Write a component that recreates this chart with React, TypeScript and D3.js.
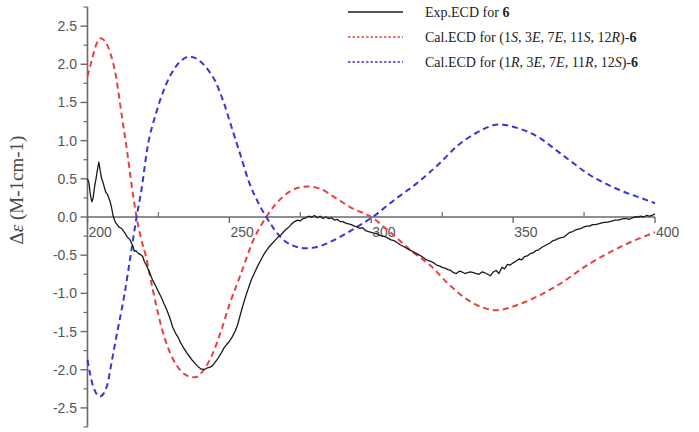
import React from "react";
import * as d3 from "d3";

const expWl = [200,200.5,201,201.5,202,202.5,203,203.5,204,204.5,205,205.5,206,206.5,207,207.5,208,208.5,209,209.5,210,210.5,211,212,213,214,215,216,216.5,217,218,219,219.5,220,221,222,223,224,225,226,227,228,229,230,231,232,233,234,235,236,237,238,239,240,241,242,243,244,245,246,247,248,249,250,251,252,253,254,255,256,257,258,259,260,261,262,263,264,265,266,267,268,269,270,271,272,273,274,275,276,277,278,279,280,281,282,283,284,285,286,287,288,289,290,291,292,293,294,295,296,297,298,299,300,301,302,303,304,305,306,307,308,309,310,311,312,313,314,315,316,317,318,319,320,321,322,323,324,325,326,327,328,329,330,331,332,333,334,335,336,337,338,339,340,341,342,343,344,345,346,347,348,349,350,351,352,353,354,355,356,357,358,359,360,361,362,363,364,365,366,367,368,369,370,371,372,373,374,375,376,377,378,379,380,381,382,383,384,385,386,387,388,389,390,391,392,393,394,395,396,397,398,399,400];
const expVal = [0.5,0.45,0.3,0.2,0.25,0.4,0.5,0.62,0.72,0.6,0.5,0.45,0.38,0.32,0.3,0.25,0.2,0.12,0.02,-0.04,-0.08,-0.1,-0.13,-0.15,-0.2,-0.26,-0.3,-0.38,-0.45,-0.44,-0.48,-0.5,-0.52,-0.58,-0.65,-0.74,-0.83,-0.9,-0.98,-1.05,-1.14,-1.22,-1.32,-1.44,-1.52,-1.58,-1.66,-1.72,-1.78,-1.83,-1.88,-1.92,-1.96,-1.99,-2.0,-1.98,-1.97,-1.95,-1.9,-1.85,-1.79,-1.72,-1.67,-1.63,-1.57,-1.5,-1.4,-1.26,-1.13,-1.01,-0.9,-0.8,-0.72,-0.64,-0.57,-0.5,-0.44,-0.39,-0.35,-0.31,-0.27,-0.24,-0.2,-0.16,-0.13,-0.09,-0.06,-0.04,-0.05,-0.02,-0.01,0.01,0.0,0.02,-0.01,0.01,-0.02,0.0,-0.02,-0.01,-0.04,-0.03,-0.06,-0.06,-0.08,-0.09,-0.1,-0.12,-0.13,-0.15,-0.14,-0.18,-0.19,-0.2,-0.21,-0.22,-0.24,-0.25,-0.26,-0.28,-0.3,-0.31,-0.33,-0.36,-0.38,-0.4,-0.42,-0.44,-0.46,-0.48,-0.5,-0.52,-0.55,-0.57,-0.58,-0.6,-0.63,-0.64,-0.66,-0.67,-0.69,-0.7,-0.73,-0.74,-0.71,-0.72,-0.74,-0.73,-0.72,-0.73,-0.74,-0.75,-0.72,-0.73,-0.75,-0.77,-0.72,-0.7,-0.74,-0.66,-0.68,-0.62,-0.63,-0.6,-0.58,-0.55,-0.56,-0.52,-0.51,-0.48,-0.47,-0.44,-0.43,-0.4,-0.38,-0.36,-0.34,-0.31,-0.3,-0.28,-0.27,-0.26,-0.23,-0.2,-0.19,-0.17,-0.16,-0.15,-0.13,-0.12,-0.12,-0.1,-0.1,-0.09,-0.08,-0.07,-0.07,-0.06,-0.05,-0.04,-0.04,-0.03,-0.02,-0.02,-0.03,-0.01,0.0,0.0,0.01,0.0,0.02,0.01,0.02,0.04];

const calSWl = [200,201.5,203,204.5,206,208,210,212,214,216,217.3,219,220.5,223,226.5,230,233,236,238,241,244,247,250,254,258.5,263,269,274,277.5,282,287,293,300,307,314,321,327,336,344,353,365,377,389,400];
const calSVal = [1.84,2.05,2.25,2.34,2.31,2.15,1.85,1.35,0.85,0.3,0,-0.3,-0.5,-0.95,-1.5,-1.85,-2.02,-2.09,-2.1,-2.0,-1.8,-1.5,-1.15,-0.75,-0.3,0,0.27,0.38,0.4,0.37,0.26,0.12,0,-0.21,-0.44,-0.64,-0.87,-1.13,-1.22,-1.13,-0.91,-0.61,-0.37,-0.2];

const calRWl = [200,202,204.4,206.8,208.5,210,213,215.5,217.3,219,221,224.5,229,232.5,236,240,243,245,248,251,254,257,260,263,268,272,277,282,287,295,300.5,308,316,324,330,337,345,352,360,365,370,377,383,389,395,400];
const calRVal = [-1.87,-2.22,-2.35,-2.22,-1.9,-1.6,-1.02,-0.43,0,0.35,0.88,1.4,1.84,2.03,2.1,2.03,1.9,1.78,1.5,1.15,0.8,0.45,0.2,0,-0.26,-0.37,-0.41,-0.38,-0.3,-0.13,0,0.22,0.44,0.7,0.92,1.1,1.21,1.16,1.02,0.88,0.74,0.55,0.43,0.33,0.25,0.18];

const xTicks = [200, 250, 300, 350, 400];
const xMinorTicks = [225, 275, 325, 375];
const yTicks = [-2.5, -2.0, -1.5, -1.0, -0.5, 0.0, 0.5, 1.0, 1.5, 2.0, 2.5];
const yMinorTicks = [-2.75, -2.25, -1.75, -1.25, -0.75, -0.25, 0.25, 0.75, 1.25, 1.75, 2.25, 2.75];

const RED = "#e8413f";
const BLUE = "#3636d8";
const AXIS = "#6a6a6a";
const LABEL = "#555";

export default function App() {
  const x = d3.scaleLinear().domain([200, 400]).range([87.5, 655]);
  const y = d3.scaleLinear().domain([-2.75, 2.75]).range([427, 7]);
  const lin = d3.line<[number, number]>().x(d => x(d[0])).y(d => y(d[1]));
  const smooth = d3.line<[number, number]>().x(d => x(d[0])).y(d => y(d[1])).curve(d3.curveMonotoneX);
  const exp = expWl.map((w, i) => [w, expVal[i]] as [number, number]);
  const calS = calSWl.map((w, i) => [w, calSVal[i]] as [number, number]);
  const calR = calRWl.map((w, i) => [w, calRVal[i]] as [number, number]);

  const x0 = x(200);
  const y0 = y(0);
  const serif = "'Liberation Serif', 'Times New Roman', serif";
  const sans = "'Liberation Sans', Arial, sans-serif";

  return (
    <svg width={699} height={432} style={{ position: "absolute", left: 0, top: 0, background: "#fff" }}>
      {/* y axis */}
      <line x1={x0} x2={x0} y1={y(2.75)} y2={y(-2.75)} stroke={AXIS} strokeWidth={1.6} />
      {yTicks.map(t => (
        <g key={"yt" + t}>
          <line x1={x0 - 7} x2={x0} y1={y(t)} y2={y(t)} stroke={AXIS} strokeWidth={1.4} />
          <text x={77} y={y(t)} textAnchor="end" dominantBaseline="central" fontFamily={sans} fontSize={14} fill={LABEL}>
            {t.toFixed(1)}
          </text>
        </g>
      ))}
      {yMinorTicks.map(t => (
        <line key={"ym" + t} x1={x0 - 4} x2={x0} y1={y(t)} y2={y(t)} stroke={AXIS} strokeWidth={1.2} />
      ))}
      {/* x axis at zero */}
      <line x1={x0} x2={x(400)} y1={y0} y2={y0} stroke={AXIS} strokeWidth={1.6} />
      {xTicks.map(t => (
        <g key={"xt" + t}>
          <line x1={x(t)} x2={x(t)} y1={y0} y2={y0 + 6} stroke={AXIS} strokeWidth={1.4} />
          <text x={x(t) + 1} y={237} textAnchor="start" fontFamily={sans} fontSize={14} fill={LABEL}>
            {t}
          </text>
        </g>
      ))}
      {xMinorTicks.map(t => (
        <line key={"xm" + t} x1={x(t)} x2={x(t)} y1={y0} y2={y0 - 5} stroke={AXIS} strokeWidth={1.2} />
      ))}

      {/* curves */}
      <path d={smooth(calS) || ""} fill="none" stroke={RED} strokeWidth={2} strokeDasharray="6 4" />
      <path d={smooth(calR) || ""} fill="none" stroke={BLUE} strokeWidth={2} strokeDasharray="6 4" />
      <path d={lin(exp) || ""} fill="none" stroke="#1a1a1a" strokeWidth={1.3} strokeLinejoin="round" />

      {/* y axis title */}
      <text transform={`translate(16,190) rotate(-90)`} textAnchor="middle" dominantBaseline="central" fontFamily={serif} fontSize={19} fill="#444">
        Δ<tspan fontStyle="italic">ε</tspan> (M-1cm-1)
      </text>

      {/* legend */}
      <g fontFamily={serif} fontSize={14} fill="#222">
        <line x1={348} x2={403} y1={12} y2={12} stroke="#1a1a1a" strokeWidth={1.3} />
        <text x={425} y={12} dominantBaseline="central">
          Exp.ECD for <tspan fontWeight="bold">6</tspan>
        </text>
        <line x1={348} x2={403} y1={37} y2={37} stroke={RED} strokeWidth={1.5} strokeDasharray="2.5 2" />
        <text x={425} y={37} dominantBaseline="central">
          Cal.ECD for (1<tspan fontStyle="italic">S</tspan>, 3<tspan fontStyle="italic">E</tspan>, 7<tspan fontStyle="italic">E</tspan>, 11<tspan fontStyle="italic">S</tspan>, 12<tspan fontStyle="italic">R</tspan>)-<tspan fontWeight="bold">6</tspan>
        </text>
        <line x1={348} x2={403} y1={62} y2={62} stroke={BLUE} strokeWidth={1.5} strokeDasharray="2.5 2" />
        <text x={425} y={62} dominantBaseline="central">
          Cal.ECD for (1<tspan fontStyle="italic">R</tspan>, 3<tspan fontStyle="italic">E</tspan>, 7<tspan fontStyle="italic">E</tspan>, 11<tspan fontStyle="italic">R</tspan>, 12<tspan fontStyle="italic">S</tspan>)-<tspan fontWeight="bold">6</tspan>
        </text>
      </g>
    </svg>
  );
}
